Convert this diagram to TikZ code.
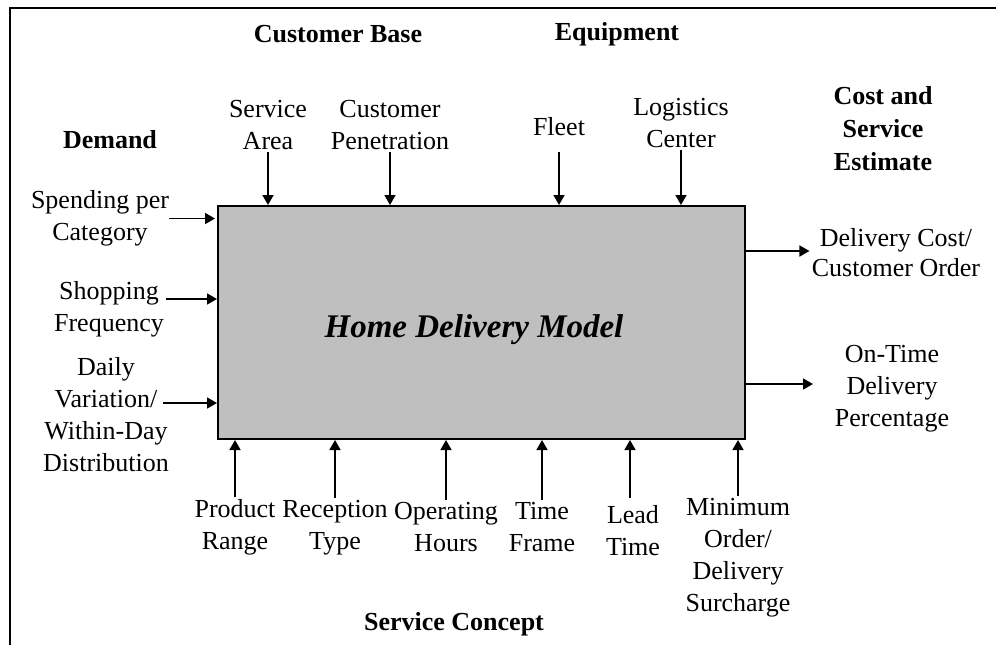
\documentclass[tikz,border=0pt]{standalone}
\usepackage{fontspec}
\setmainfont{Liberation Serif}
\usetikzlibrary{arrows.meta}
\begin{document}
\begin{tikzpicture}[x=0.5pt, y=-0.5pt,
    lbl/.style={align=center, inner sep=1pt, font=\fontsize{13}{16}\selectfont},
    head/.style={align=center, inner sep=1pt, font=\fontsize{13}{16.5}\selectfont\bfseries},
    flow/.style={-{Triangle[length=5pt,width=5.5pt]}, line width=0.8pt}]

    \useasboundingbox (0,0) rectangle (996,645);

    % Frame round the figure
    \draw[line width=1.2pt] (10,645) -- (10,8) -- (996,8);

    % The model in the middle
    \node[draw, line width=1pt, fill=black!25, minimum width=263.5pt, minimum height=116.5pt, inner sep=0pt] (box) at (481.5,322.5) {};
    \node[font=\fontsize{16.5}{20}\selectfont\bfseries\itshape] (model) at (474,330) {Home Delivery Model};

    % Group headings
    \node[head] (demand) at (110,140) {Demand};
    \node[head] (custbase) at (338,34) {Customer Base};
    \node[head] (equip) at (617,34) {Equipment};
    \node[head] (estimate) at (883,129) {Cost and\\Service\\Estimate};
    \node[head] (concept) at (454,624) {Service Concept};

    % Inputs from above
    \node[lbl] (area) at (268,125) {Service\\Area};
    \node[lbl] (penetr) at (390,125) {Customer\\Penetration};
    \node[lbl] (fleet) at (559,126.5) {Fleet};
    \node[lbl] (logist) at (681,123) {Logistics\\Center};

    \draw[flow] (area.south) -- (area.south |- box.north);
    \draw[flow] (penetr.south) -- (penetr.south |- box.north);
    \draw[flow] (fleet.south |- area.south) -- (fleet.south |- box.north);
    \draw[flow] (logist.south) -- (logist.south |- box.north);

    % Inputs from the left
    \node[lbl] (spend) at (100,218.5) {Spending per\\Category};
    \node[lbl] (shop) at (109,309) {Shopping\\Frequency};
    \node[lbl] (daily) at (106,415) {Daily\\Variation/\\Within-Day\\Distribution};

    \draw[flow] ([xshift=-1pt]spend.east) -- ([xshift=-1pt]spend.east -| box.west);
    \draw[flow] ([yshift=5pt]shop.east) -- ([yshift=5pt]shop.east -| box.west);
    \draw[flow] ([xshift=-4pt, yshift=6pt]daily.east) -- ([yshift=6pt]daily.east -| box.west);

    % Outputs to the right
    \node[lbl, font=\fontsize{13}{15}\selectfont] (cost) at (896,253) {Delivery Cost/\\Customer Order};
    \node[lbl] (ontime) at (892,388.5) {On-Time\\Delivery\\Percentage};

    \draw[flow] ([yshift=1pt]box.east |- cost.west) -- ([yshift=1pt]cost.west);
    \draw[flow] ([yshift=2.25pt]box.east |- ontime.west) -- ++(67,0);

    % Inputs from below
    \node[lbl] (range) at (235,527.5) {Product\\Range};
    \node[lbl] (recep) at (335,527.5) {Reception\\Type};
    \node[lbl] (hours) at (446,527.5) {Operating\\Hours};
    \node[lbl] (frame) at (542,527.5) {Time\\Frame};
    \node[lbl] (lead) at (633,531) {Lead\\Time};
    \node[lbl] (minord) at (738,557.5) {Minimum\\Order/\\Delivery\\Surcharge};

    \draw[flow] (range.north) -- (range.north |- box.south);
    \draw[flow] (recep.north) -- (recep.north |- box.south);
    \draw[flow] (hours.north) -- (hours.north |- box.south);
    \draw[flow] (frame.north) -- (frame.north |- box.south);
    \draw[flow] ([xshift=-1.5pt]lead.north |- recep.north) -- ([xshift=-1.5pt]lead.north |- box.south);
    \draw[flow] (minord.north) -- (minord.north |- box.south);

\end{tikzpicture}
\end{document}
